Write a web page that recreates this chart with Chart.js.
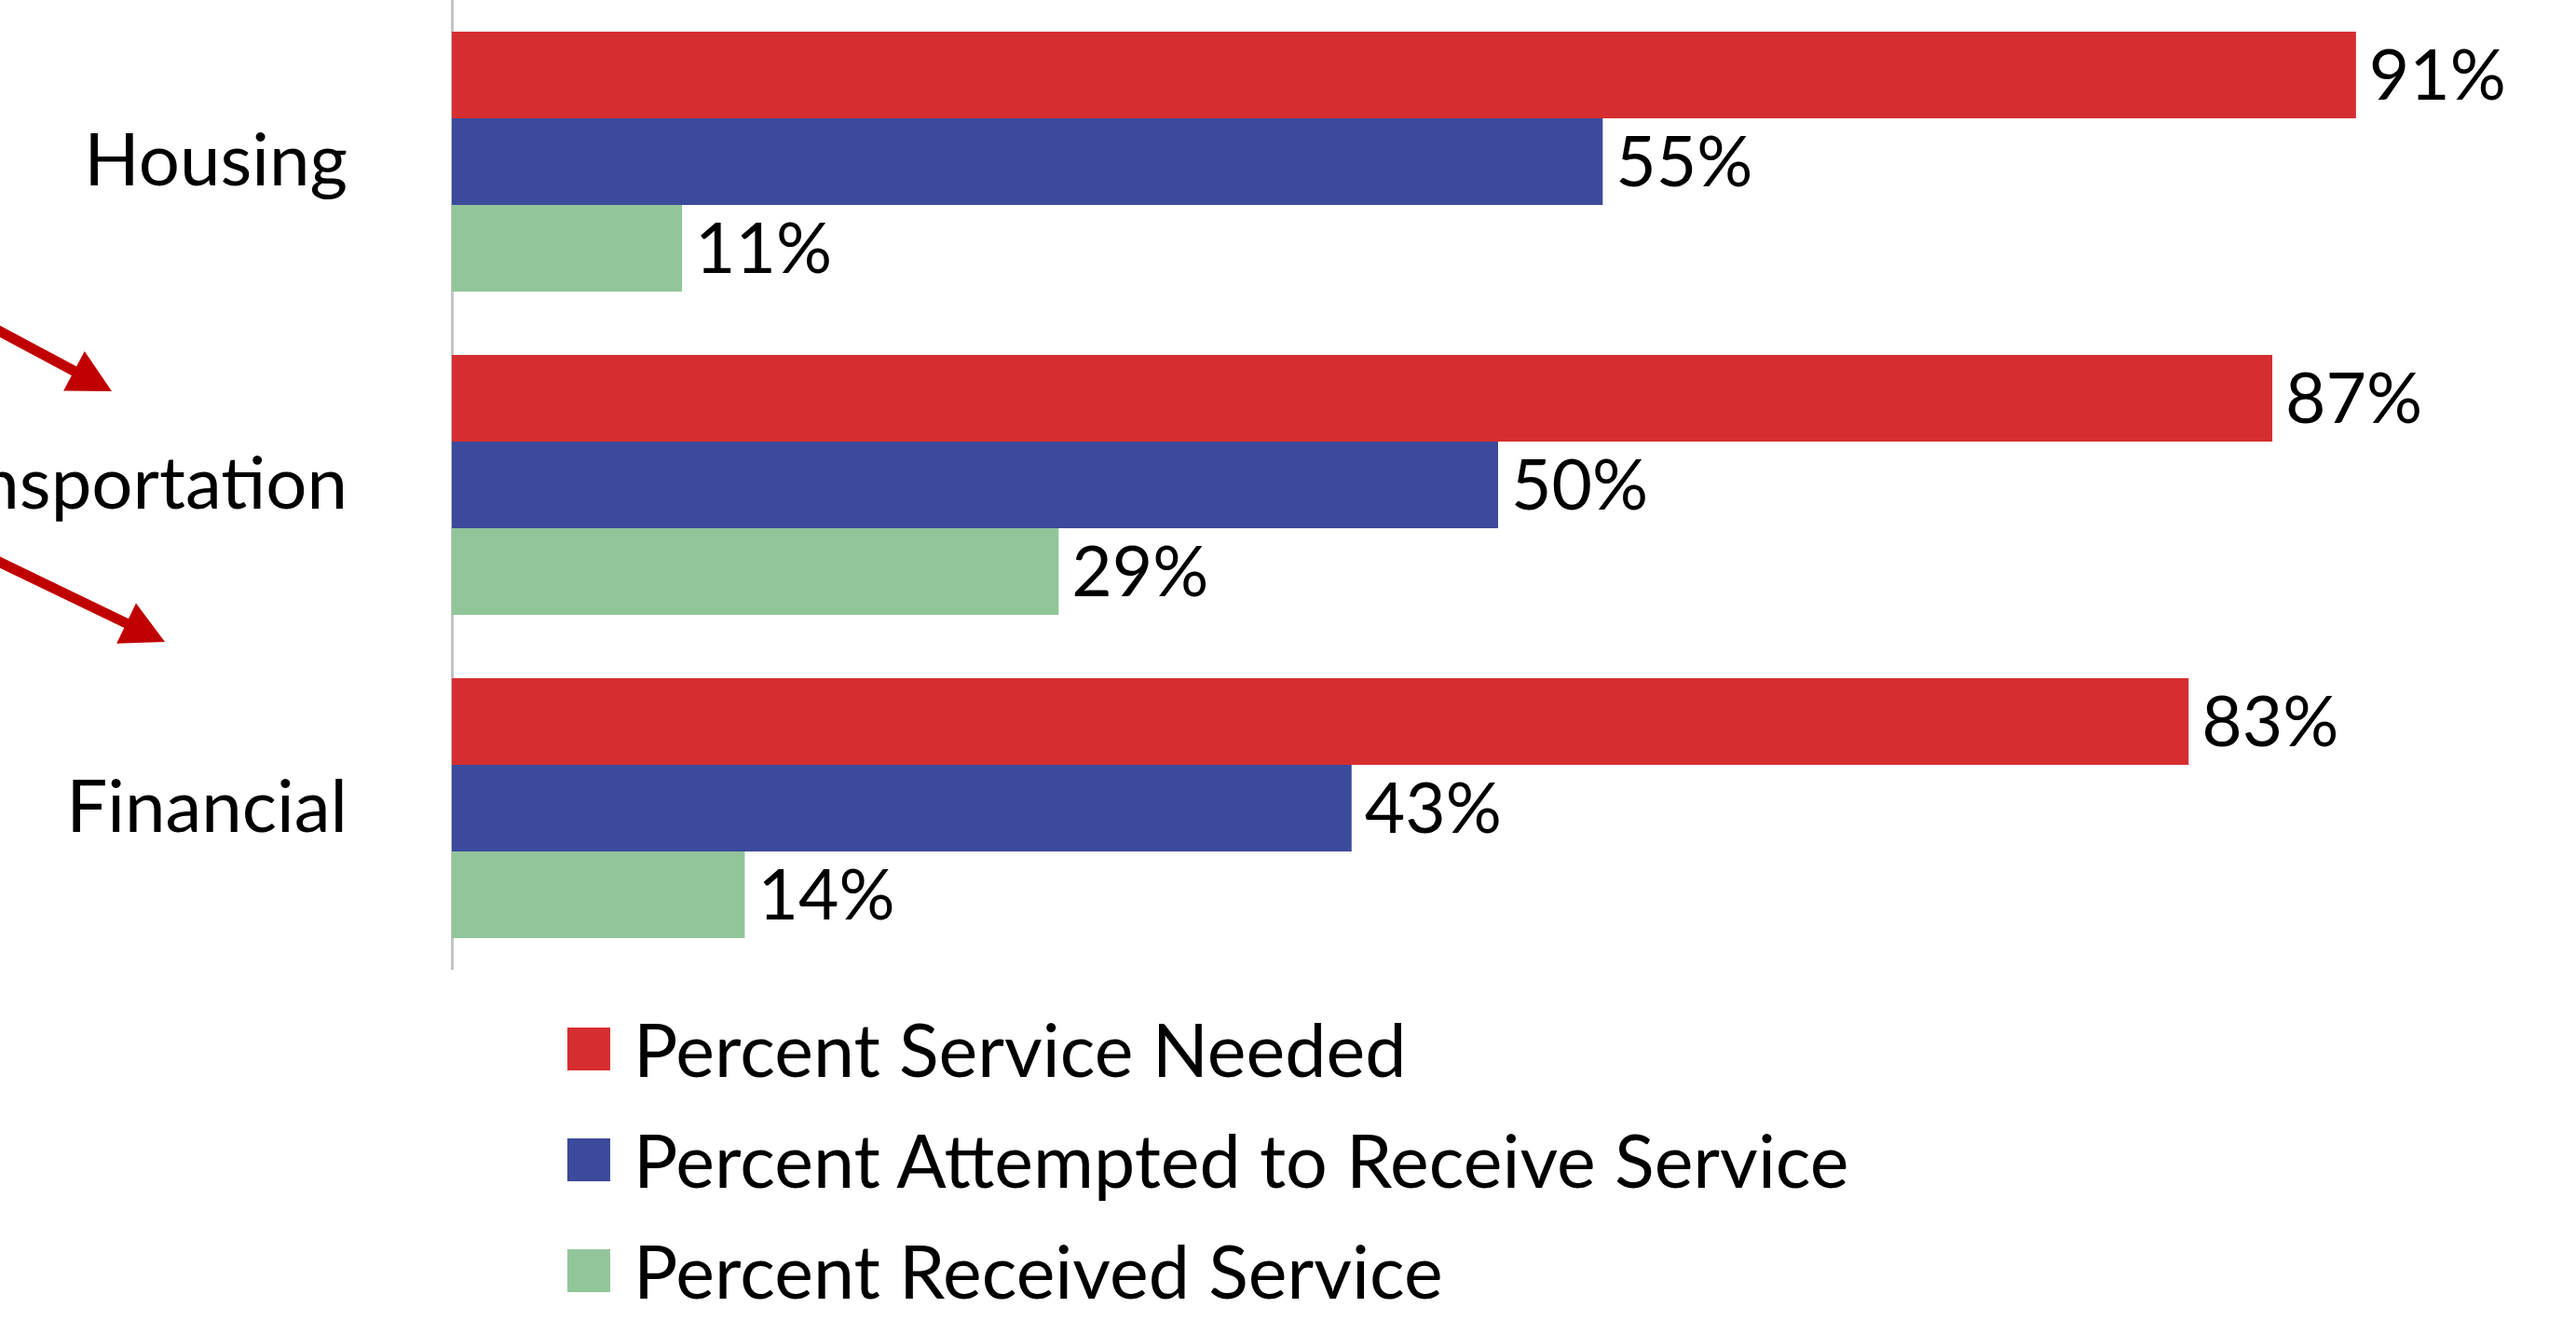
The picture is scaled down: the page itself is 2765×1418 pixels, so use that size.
<!DOCTYPE html>
<html>
<head>
<meta charset="utf-8">
<script src="https://cdn.jsdelivr.net/npm/chart.js@4.4.1/dist/chart.umd.min.js"></script>
<style>
  html, body { margin: 0; padding: 0; background: #fff; overflow: hidden; }
  body { width: 2765px; height: 1418px; position: relative; font-family: Lato, "Open Sans", sans-serif; }
  #wrap { position: absolute; left: 0; top: 0; width: 2765px; height: 1041px; }
  #legend { position: absolute; left: 609px; top: 1066px; }
  .item { display: flex; align-items: center; height: 119px; }
  .box { width: 46px; height: 46px; margin-right: 25px; flex: none; }
  .lbl { font-size: 79px; color: #000; line-height: 1; white-space: nowrap; }
</style>
</head>
<body>
<div id="wrap"><canvas id="c"></canvas></div>
<div id="legend"></div>
<script>
const categories = ["Housing", "Transportation", "Financial"];
const seriesNames = ["Percent Service Needed", "Percent Attempted to Receive Service", "Percent Received Service"];
const needed = [91, 87, 83];
const attempted = [55, 50, 43];
const received = [11, 29, 14];
const colors = ["#D62E30", "#3C4A9B", "#92C59A"];

const valueLabels = {
  id: 'valueLabels',
  afterDatasetsDraw(chart) {
    const ctx = chart.ctx;
    ctx.save();
    ctx.font = '75px Lato, "Open Sans", sans-serif';
    ctx.fillStyle = '#000';
    ctx.textAlign = 'left';
    ctx.textBaseline = 'middle';
    chart.data.datasets.forEach((ds, i) => {
      chart.getDatasetMeta(i).data.forEach((el, j) => {
        ctx.fillText(ds.data[j] + '%', el.x + 14, el.y + 2);
      });
    });
    ctx.restore();
  }
};

const arrows = {
  id: 'arrows',
  afterDraw(chart) {
    const ctx = chart.ctx;
    const list = [[-20, 345, 120, 420], [-20, 594, 177, 689]];
    ctx.save();
    ctx.fillStyle = '#C00000';
    ctx.strokeStyle = '#C00000';
    ctx.lineWidth = 11;
    list.forEach(([x0, y0, x1, y1]) => {
      const a = Math.atan2(y1 - y0, x1 - x0);
      const hl = 46, hw = 24;
      const bx = x1 - hl * Math.cos(a), by = y1 - hl * Math.sin(a);
      ctx.beginPath();
      ctx.moveTo(x0, y0);
      ctx.lineTo(bx + 2 * Math.cos(a), by + 2 * Math.sin(a));
      ctx.stroke();
      ctx.beginPath();
      ctx.moveTo(x1, y1);
      ctx.lineTo(bx - hw * Math.sin(a), by + hw * Math.cos(a));
      ctx.lineTo(bx + hw * Math.sin(a), by - hw * Math.cos(a));
      ctx.closePath();
      ctx.fill();
    });
    ctx.restore();
  }
};

function build() {
  const chart = new Chart(document.getElementById('c'), {
    type: 'bar',
    data: {
      labels: categories,
      datasets: [
        { label: seriesNames[0], data: needed, backgroundColor: colors[0] },
        { label: seriesNames[1], data: attempted, backgroundColor: colors[1] },
        { label: seriesNames[2], data: received, backgroundColor: colors[2] }
      ]
    },
    options: {
      indexAxis: 'y',
      responsive: true,
      maintainAspectRatio: false,
      animation: false,
      layout: { padding: { left: 0, top: 0, bottom: 0, right: 34 } },
      datasets: { bar: { categoryPercentage: 0.804, barPercentage: 1.0 } },
      plugins: { legend: { display: false }, tooltip: { enabled: false } },
      scales: {
        x: { display: false, min: 0, max: 100 },
        y: {
          afterFit(scale) { scale.width = 485; scale.paddingTop = 0; scale.paddingBottom = 0; },
          grid: { display: false, drawTicks: false },
          border: { display: true, color: '#C4C4C8', width: 3 },
          ticks: {
            color: '#000',
            padding: 112,
            font: { family: 'Lato, "Open Sans", sans-serif', size: 78 }
          }
        }
      }
    },
    plugins: [valueLabels, arrows]
  });
  const leg = document.getElementById('legend');
  chart.data.datasets.forEach(ds => {
    const it = document.createElement('div');
    it.className = 'item';
    const b = document.createElement('div');
    b.className = 'box';
    b.style.background = ds.backgroundColor;
    const t = document.createElement('div');
    t.className = 'lbl';
    t.textContent = ds.label;
    it.appendChild(b); it.appendChild(t);
    leg.appendChild(it);
  });
}
(document.fonts ? document.fonts.load('76px Lato') : Promise.resolve()).then(build, build);
</script>
</body>
</html>
